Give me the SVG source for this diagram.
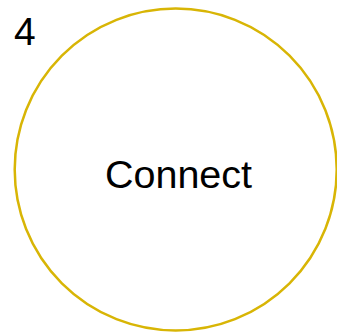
<svg xmlns="http://www.w3.org/2000/svg" width="337" height="333" viewBox="0 0 337 333">
<style>
.lbl{font-family:"Liberation Sans",Arial,sans-serif;fill:#000}
</style>
<rect width="337" height="333" fill="#fff"/>
<g id="node-connect">
<circle cx="175.7" cy="169.5" r="161" fill="none" stroke="#d8b505" stroke-width="2.5"/>
<text class="lbl" x="178.5" y="188" font-size="39.5" text-anchor="middle">Connect</text>
</g>
<g id="number">
<text class="lbl" x="14" y="45" font-size="39">4</text>
</g>
<g id="connectors"></g>
</svg>
